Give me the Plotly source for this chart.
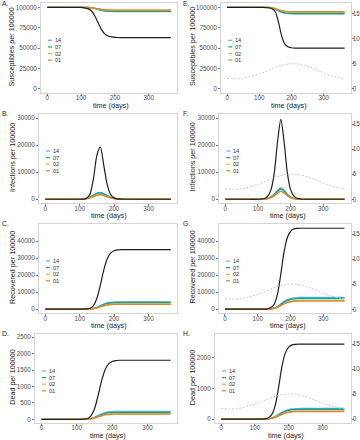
import plotly.graph_objects as go

# ---------------- data ----------------
days = [0, 50, 100, 110, 120, 130, 140, 150, 160, 170, 180, 190, 200, 210, 220, 230, 240, 260, 300, 365]
groups = ["14", "07", "02", "01"]

# A. Susceptibles (left column)
sus_A_black = [100000, 100000, 99890, 99480, 98520, 95930, 90010, 81500, 72990, 67440, 64850, 63740, 63260, 63050, 63000, 63000, 63000, 63000, 63000, 63000]
sus_A_14 = [100000, 100000, 99985, 99930, 99800, 99450, 98650, 97500, 96350, 95600, 95250, 95100, 95035, 95010, 95000, 95000, 95000, 95000, 95000, 95000]
sus_A_07 = [100000, 100000, 99986, 99933, 99808, 99472, 98704, 97600, 96496, 95776, 95440, 95296, 95234, 95210, 95200, 95200, 95200, 95200, 95200, 95200]
sus_A_02 = [100000, 100000, 99989, 99950, 99856, 99604, 99028, 98200, 97372, 96832, 96580, 96472, 96425, 96405, 96400, 96400, 96400, 96400, 96400, 96400]
sus_A_01 = [100000, 100000, 99990, 99952, 99864, 99626, 99082, 98300, 97518, 97008, 96770, 96668, 96624, 96605, 96600, 96600, 96600, 96600, 96600, 96600]

# B. Infections (left column)
inf_B_black = [0, 0, 0, 22, 273, 1911, 7469, 16127, 19268, 12734, 5500, 1800, 500, 150, 40, 0, 0, 0, 0, 0]
inf_B_14 = [0, 0, 75, 160, 375, 825, 1525, 2250, 2500, 2100, 1425, 775, 375, 150, 65, 20, 0, 0, 0, 0]
inf_B_07 = [0, 0, 69, 147, 345, 759, 1403, 2070, 2300, 1932, 1311, 713, 345, 138, 60, 18, 0, 0, 0, 0]
inf_B_02 = [0, 0, 51, 109, 255, 561, 1037, 1530, 1700, 1428, 969, 527, 255, 102, 44, 14, 0, 0, 0, 0]
inf_B_01 = [0, 0, 48, 102, 240, 528, 976, 1440, 1600, 1344, 912, 496, 240, 96, 42, 13, 0, 0, 0, 0]

# C. Recovered (left column)
rec_C_black = [0, 0, 0, 35, 140, 525, 2100, 6300, 14000, 22750, 29400, 32900, 34300, 34825, 35000, 35000, 35000, 35000, 35000, 35000]
rec_C_14 = [0, 0, 0, 13, 52, 172, 473, 1118, 2021, 2967, 3655, 4042, 4214, 4279, 4300, 4300, 4300, 4300, 4300, 4300]
rec_C_07 = [0, 0, 0, 12, 47, 156, 429, 1014, 1833, 2691, 3315, 3666, 3822, 3881, 3900, 3900, 3900, 3900, 3900, 3900]
rec_C_02 = [0, 0, 0, 9, 36, 120, 330, 780, 1410, 2070, 2550, 2820, 2940, 2985, 3000, 3000, 3000, 3000, 3000, 3000]
rec_C_01 = [0, 0, 0, 9, 35, 116, 319, 754, 1363, 2001, 2465, 2726, 2842, 2886, 2900, 2900, 2900, 2900, 2900, 2900]

# D. Dead (left column)
dead_D_black = [0, 0, 0, 2, 7, 27, 108, 324, 720, 1170, 1512, 1692, 1764, 1791, 1800, 1800, 1800, 1800, 1800, 1800]
dead_D_14 = [0, 0, 0, 1, 3, 10, 26, 62, 113, 166, 204, 226, 235, 239, 240, 240, 240, 240, 240, 240]
dead_D_07 = [0, 0, 0, 1, 3, 9, 24, 56, 101, 148, 183, 202, 211, 214, 215, 215, 215, 215, 215, 215]
dead_D_02 = [0, 0, 0, 1, 2, 7, 19, 44, 80, 117, 145, 160, 167, 169, 170, 170, 170, 170, 170, 170]
dead_D_01 = [0, 0, 0, 0, 2, 6, 18, 42, 75, 110, 136, 150, 157, 159, 160, 160, 160, 160, 160, 160]

# E. Susceptibles (right column)
sus_E_black = [100000, 100000, 100000, 99950, 99850, 99500, 98250, 94000, 81000, 64000, 54500, 51500, 50500, 50150, 50000, 50000, 50000, 50000, 50000, 50000]
sus_E_14 = [100000, 100000, 100000, 99976, 99920, 99680, 99040, 97600, 95600, 93840, 92800, 92320, 92120, 92040, 92000, 92000, 92000, 92000, 92000, 92000]
sus_E_07 = [100000, 100000, 100000, 99978, 99925, 99700, 99100, 97750, 95875, 94225, 93250, 92800, 92612, 92538, 92500, 92500, 92500, 92500, 92500, 92500]
sus_E_02 = [100000, 100000, 100000, 99983, 99943, 99772, 99316, 98290, 96865, 95611, 94870, 94528, 94386, 94329, 94300, 94300, 94300, 94300, 94300, 94300]
sus_E_01 = [100000, 100000, 100000, 99984, 99946, 99784, 99352, 98380, 97030, 95842, 95140, 94816, 94681, 94627, 94600, 94600, 94600, 94600, 94600, 94600]

# F. Infections (right column)
inf_F_black = [0, 0, 0, 90, 295, 1180, 3540, 9735, 21240, 29500, 21240, 9735, 3540, 1180, 354, 89, 0, 0, 0, 0]
inf_F_14 = [0, 0, 0, 42, 126, 378, 924, 1890, 3276, 4200, 3360, 1890, 840, 336, 126, 42, 0, 0, 0, 0]
inf_F_07 = [0, 0, 0, 38, 114, 342, 836, 1710, 2964, 3800, 3040, 1710, 760, 304, 114, 38, 0, 0, 0, 0]
inf_F_02 = [0, 0, 0, 30, 90, 270, 660, 1350, 2340, 3000, 2400, 1350, 600, 240, 90, 30, 0, 0, 0, 0]
inf_F_01 = [0, 0, 0, 29, 87, 261, 638, 1305, 2262, 2900, 2320, 1305, 580, 232, 87, 29, 0, 0, 0, 0]

# G. Recovered (right column)
rec_G_black = [0, 0, 0, 0, 48, 238, 950, 2850, 8550, 19950, 33250, 41800, 45600, 47025, 47405, 47500, 47500, 47500, 47500, 47500]
rec_G_14 = [0, 0, 0, 0, 35, 104, 276, 690, 1587, 2967, 4416, 5520, 6210, 6624, 6797, 6866, 6900, 6900, 6900, 6900]
rec_G_07 = [0, 0, 0, 0, 32, 95, 252, 630, 1449, 2709, 4032, 5040, 5670, 6048, 6206, 6269, 6300, 6300, 6300, 6300]
rec_G_02 = [0, 0, 0, 0, 25, 75, 200, 500, 1150, 2150, 3200, 4000, 4500, 4800, 4925, 4975, 5000, 5000, 5000, 5000]
rec_G_01 = [0, 0, 0, 0, 25, 74, 196, 490, 1127, 2107, 3136, 3920, 4410, 4704, 4827, 4876, 4900, 4900, 4900, 4900]

# H. Dead (right column)
dead_H_black = [0, 0, 0, 0, 2, 12, 49, 146, 439, 1025, 1708, 2147, 2342, 2416, 2435, 2440, 2440, 2440, 2440, 2440]
dead_H_14 = [0, 0, 0, 0, 2, 5, 14, 35, 79, 148, 221, 276, 311, 331, 340, 343, 345, 345, 345, 345]
dead_H_07 = [0, 0, 0, 0, 2, 5, 13, 32, 74, 138, 205, 256, 288, 307, 315, 318, 320, 320, 320, 320]
dead_H_02 = [0, 0, 0, 0, 1, 4, 10, 26, 60, 112, 166, 208, 234, 250, 256, 259, 260, 260, 260, 260]
dead_H_01 = [0, 0, 0, 0, 1, 4, 10, 25, 58, 108, 160, 200, 225, 240, 246, 249, 250, 250, 250, 250]

# seasonal driver (dashed, right axis of right column)
season_days = [0, 25, 50, 75, 100, 125, 150, 175, 200, 225, 250, 275, 300, 325, 350, 365]
season_vals = [2.1, 2.0, 2.1, 2.5, 3.0, 3.6, 4.3, 4.8, 5.0, 4.9, 4.5, 3.9, 3.2, 2.6, 2.2, 2.1]

x_ticks = [0, 100, 200, 300]
sec_ticks = [0, 5, 10, 15]

panels = [
    ("A.", "Susceptibles per 100000", [sus_A_14, sus_A_07, sus_A_02, sus_A_01], sus_A_black, [0, 25000, 50000, 75000, 100000]),
    ("B.", "Infections per 100000", [inf_B_14, inf_B_07, inf_B_02, inf_B_01], inf_B_black, [0, 10000, 20000, 30000]),
    ("C.", "Recovered per 100000", [rec_C_14, rec_C_07, rec_C_02, rec_C_01], rec_C_black, [0, 10000, 20000, 30000, 40000]),
    ("D.", "Dead per 100000", [dead_D_14, dead_D_07, dead_D_02, dead_D_01], dead_D_black, [0, 500, 1000, 1500, 2000, 2500]),
    ("E.", "Susceptibles per 100000", [sus_E_14, sus_E_07, sus_E_02, sus_E_01], sus_E_black, [0, 25000, 50000, 75000, 100000]),
    ("F.", "Infections per 100000", [inf_F_14, inf_F_07, inf_F_02, inf_F_01], inf_F_black, [0, 10000, 20000, 30000]),
    ("G.", "Recovered per 100000", [rec_G_14, rec_G_07, rec_G_02, rec_G_01], rec_G_black, [0, 10000, 20000, 30000, 40000]),
    ("H.", "Dead per 100000", [dead_H_14, dead_H_07, dead_H_02, dead_H_01], dead_H_black, [0, 1000, 2000]),
]

# ---------------- styling / layout ----------------
W, H = 360, 440
colors = ["#56B4E9", "#16A385", "#F0B040", "#DB8435"]
black = "#1f1f1f"
FONT = "Liberation Sans"
tickfont = dict(family=FONT, size=6.3, color="#4d4d4d")

box_left = [41, 39, 39, 35, 221.3, 219.3, 219, 215]
box_right = [177] * 4 + [350.5] * 4
row_top = [3.3, 114, 224, 334]
row_bot = [93, 203.3, 313.3, 423]
y_ranges = [[-5000, 105000], [-1500, 31500], [-2400, 50000], [-110, 2600],
            [-5000, 105000], [-1500, 31500], [-2400, 50000], [-125, 2770]]
x_range = [-18.25, 383.25]
sec_range = [-0.8, 17.0]


def px(v):
    return v / W


def py(v):
    return 1 - v / H


fig = go.Figure()
layout = dict(template="none", width=W, height=H, margin=dict(l=0, r=0, t=0, b=0, pad=0),
              paper_bgcolor="white", plot_bgcolor="white", showlegend=False)
annotations = []
shapes = []

axis_common = dict(showline=True, mirror=True, linecolor="#d4d4d4", linewidth=0.8,
                   showgrid=False, zeroline=False, ticks="outside", ticklen=2,
                   tickwidth=0.6, tickcolor="#777777", tickfont=tickfont, automargin=False)

for i, (label, ytitle, series, blk, yt) in enumerate(panels):
    n = i + 1
    row = i % 4
    right_col = i >= 4
    xa, ya = f"x{n}", f"y{n}"
    for g, vals, c in zip(groups, series, colors):
        fig.add_trace(go.Scatter(x=days, y=vals, xaxis=xa, yaxis=ya, mode="lines", name=g,
                                 line=dict(color=c, width=1.4, shape="spline", smoothing=0.8),
                                 hoverinfo="skip"))
    fig.add_trace(go.Scatter(x=days, y=blk, xaxis=xa, yaxis=ya, mode="lines",
                             line=dict(color=black, width=1.2, shape="spline", smoothing=0.8),
                             hoverinfo="skip"))
    l, r = box_left[i], box_right[i]
    t, b = row_top[row], row_bot[row]
    layout[f"xaxis{n}"] = dict(domain=[px(l), px(r)], anchor=ya, range=x_range,
                               tickvals=x_ticks, ticklabelstandoff=-3, **axis_common)
    layout[f"yaxis{n}"] = dict(domain=[py(b), py(t)], anchor=xa, range=y_ranges[i],
                               tickvals=yt, tickformat="d", **axis_common)
    if right_col:
        sn = 9 + row
        fig.add_trace(go.Scatter(x=season_days, y=season_vals, xaxis=xa, yaxis=f"y{sn}",
                                 mode="lines",
                                 line=dict(color="#c4c4c4", width=0.9, dash="2px,1.6px",
                                           shape="spline"),
                                 hoverinfo="skip"))
        layout[f"yaxis{sn}"] = dict(overlaying=ya, side="right", anchor=xa, range=sec_range,
                                    tickvals=sec_ticks, showline=False, showgrid=False,
                                    zeroline=False, ticks="outside", ticklen=2, tickwidth=0.6,
                                    tickcolor="#777777", tickfont=tickfont, automargin=False,
                                    ticklabelstandoff=-2)
    # panel letter
    annotations.append(dict(text=label, x=px(180.5 if right_col else 0), y=py(t - 1 if row else 3.6),
                            xref="paper", yref="paper", xanchor="left", yanchor="middle",
                            showarrow=False, font=dict(family=FONT, size=6.8, color="#1a1a1a")))
    # y title
    annotations.append(dict(text=ytitle, x=px(192.3 if right_col else 11.8), y=py((t + b) / 2 - 1.5),
                            xref="paper", yref="paper", xanchor="center", yanchor="middle",
                            textangle=-90, showarrow=False,
                            font=dict(family=FONT, size=7.2, color="#1a1a1a")))
    # x title
    annotations.append(dict(text="time (days)", x=px((l + r) / 2 + (3.5 if right_col else 1.5)),
                            y=py(b + 12), xref="paper", yref="paper", xanchor="center",
                            yanchor="middle", showarrow=False,
                            font=dict(family=FONT, size=7.2, color="#1a1a1a")))
    # legend
    for k, (g, c) in enumerate(zip(groups, colors)):
        yy = t + 37 + 6.6 * k
        shapes.append(dict(type="line", xref="paper", yref="paper",
                           x0=px(l + 7), x1=px(l + 11), y0=py(yy), y1=py(yy),
                           line=dict(color=c, width=1.2)))
        annotations.append(dict(text=g, x=px(l + 11.6), y=py(yy), xref="paper", yref="paper",
                                xanchor="left", yanchor="middle", showarrow=False,
                                font=dict(family=FONT, size=5.6, color="#333333")))

layout["annotations"] = annotations
layout["shapes"] = shapes
fig.update_layout(**layout)
fig.write_html("out.html", config={"displayModeBar": False})

# remove the browser's default page margin so the figure sits at the window origin
with open("out.html", "r", encoding="utf-8") as fh:
    html = fh.read()
html = html.replace("<head>", "<head><style>html,body{margin:0;padding:0;overflow:hidden;}</style>", 1)
with open("out.html", "w", encoding="utf-8") as fh:
    fh.write(html)
